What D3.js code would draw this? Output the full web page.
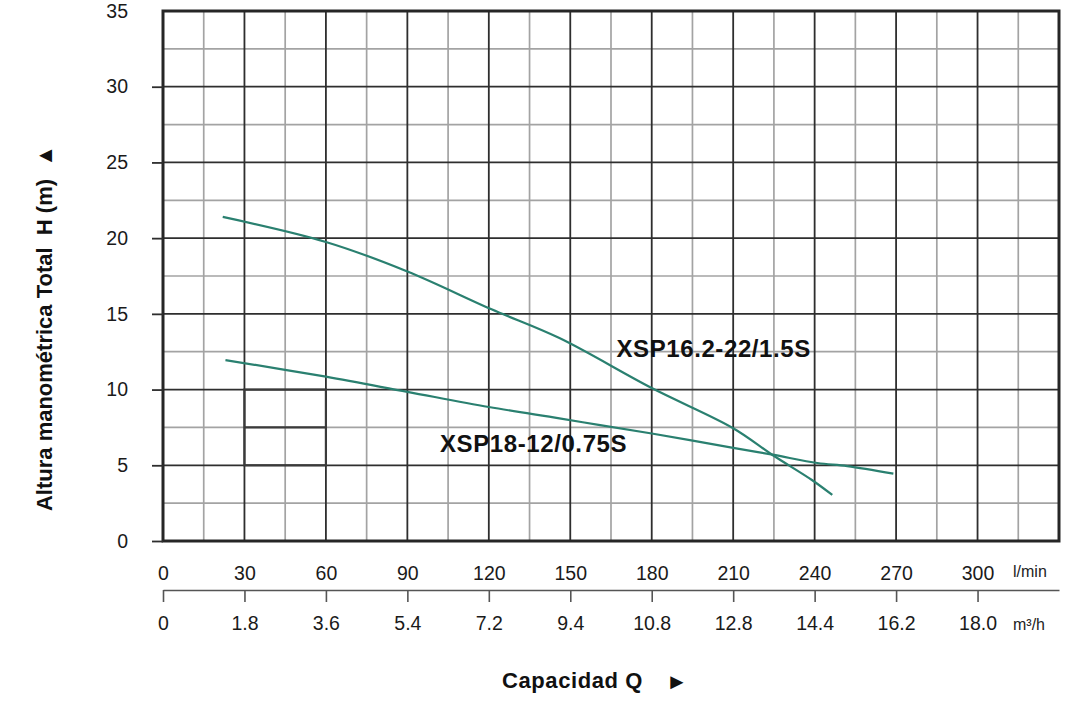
<!DOCTYPE html>
<html><head><meta charset="utf-8">
<script src="https://cdn.jsdelivr.net/npm/d3@7"></script>
<style>
body{margin:0;background:#fff}
svg text{font-family:"Liberation Sans",Arial,Helvetica,sans-serif}
</style></head>
<body><svg id="chart" width="1074" height="702"></svg>
<script>
// ---- data ----
const lpmTicks = [0, 30, 60, 90, 120, 150, 180, 210, 240, 270, 300];
const m3hLabels = ["0", "1.8", "3.6", "5.4", "7.2", "9.4", "10.8", "12.8", "14.4", "16.2", "18.0"];
const headTicks = [0, 5, 10, 15, 20, 25, 30, 35];

const xsp16Q = [22, 60, 90, 121, 146, 180, 210, 224.5, 239, 246.5];
const xsp16H = [21.4, 19.75, 17.8, 15.3, 13.4, 10.1, 7.45, 5.68, 4.03, 3.04];
const xsp18Q = [23, 60, 90, 120, 146, 161, 180, 210, 224.5, 241, 252, 269];
const xsp18H = [11.95, 10.85, 9.85, 8.85, 8.1, 7.65, 7.1, 6.15, 5.7, 5.15, 4.95, 4.45];
const seriesNames = ["XSP16.2-22/1.5S", "XSP18-12/0.75S"];
const labelAnchorQ = [167, 102];   // where each label starts (l/min)
const labelAnchorH = [12.15, 5.9]; // label baseline (m)
const boxQ = [30, 60], boxH = [5, 10]; // highlighted box on the grid

// ---- layout ----
const svg = d3.select("#chart");
const x = d3.scaleLinear().domain([0, 330]).range([163, 1059]);
const y = d3.scaleLinear().domain([0, 35]).range([541, 11]);
const xm3 = d3.scaleLinear().domain([0, 19.8]).range([163, 1059]);

const DARK = "#2e2e2e", LIGHT = "#a3a3a3";

// grid
const vLines = d3.range(15, 330, 15);
const hLines = d3.range(2.5, 35, 2.5);
const grid = svg.append("g");
grid.selectAll(".vl").data(vLines.filter(d => d % 30 !== 0)).join("line")
  .attr("x1", d => x(d)).attr("x2", d => x(d)).attr("y1", y(35)).attr("y2", y(0))
  .attr("stroke", LIGHT).attr("stroke-width", 1.7);
grid.selectAll(".hl").data(hLines.filter(d => d % 5 !== 0)).join("line")
  .attr("y1", d => y(d)).attr("y2", d => y(d)).attr("x1", x(0)).attr("x2", x(330))
  .attr("stroke", LIGHT).attr("stroke-width", 1.7);
grid.selectAll(".vd").data(vLines.filter(d => d % 30 === 0)).join("line")
  .attr("x1", d => x(d)).attr("x2", d => x(d)).attr("y1", y(35)).attr("y2", y(0))
  .attr("stroke", DARK).attr("stroke-width", 1.8);
grid.selectAll(".hd").data(hLines.filter(d => d % 5 === 0)).join("line")
  .attr("y1", d => y(d)).attr("y2", d => y(d)).attr("x1", x(0)).attr("x2", x(330))
  .attr("stroke", DARK).attr("stroke-width", 1.8);

// highlighted box
svg.append("rect").attr("x", x(boxQ[0])).attr("y", y(boxH[1]))
  .attr("width", x(boxQ[1]) - x(boxQ[0])).attr("height", y(boxH[0]) - y(boxH[1]))
  .attr("fill", "none").attr("stroke", "#3a3a3a").attr("stroke-width", 2.2);
svg.append("line").attr("x1", x(boxQ[0])).attr("x2", x(boxQ[1]))
  .attr("y1", y((boxH[0] + boxH[1]) / 2)).attr("y2", y((boxH[0] + boxH[1]) / 2))
  .attr("stroke", "#3a3a3a").attr("stroke-width", 2.2);

// frame
svg.append("rect").attr("x", x(0)).attr("y", y(35))
  .attr("width", x(330) - x(0)).attr("height", y(0) - y(35))
  .attr("fill", "none").attr("stroke", "#262626").attr("stroke-width", 3);

// y axis
const gy = svg.append("g").attr("transform", `translate(${x(0)},0)`)
  .call(d3.axisLeft(y).tickValues(headTicks).tickSize(11).tickPadding(24));
gy.select(".domain").remove();
gy.selectAll(".tick line").attr("stroke", DARK).attr("stroke-width", 1.8)
  .filter(d => d === 35).remove();
gy.attr("font-family", null).attr("font-size", null);
gy.selectAll("text").attr("font-size", 19.5).attr("fill", "#1a1a1a");

// x axis 1 (l/min)
const gx1 = svg.append("g").attr("transform", `translate(0,${y(0)})`)
  .call(d3.axisBottom(x).tickValues(lpmTicks).tickSize(0).tickPadding(25));
gx1.select(".domain").remove();
gx1.attr("font-family", null).attr("font-size", null);
gx1.selectAll("text").attr("font-size", 19.5).attr("fill", "#1a1a1a");

// x axis 2 (m3/h)
const gx2 = svg.append("g").attr("transform", "translate(0,590)")
  .call(d3.axisBottom(xm3).tickValues(m3hLabels.map((d, i) => i * 1.8))
    .tickFormat((d, i) => m3hLabels[i]).tickSize(12).tickSizeOuter(0).tickPadding(14));
gx2.select(".domain").attr("stroke", "#555").attr("stroke-width", 1.6);
gx2.selectAll(".tick line").attr("stroke", "#555").attr("stroke-width", 1.6);
gx2.attr("font-family", null).attr("font-size", null);
gx2.selectAll("text").attr("font-size", 19.5).attr("fill", "#1a1a1a");

// unit labels
svg.append("text").attr("x", 1013).attr("y", 577).attr("font-size", 16).attr("fill", "#222").text("l/min");
svg.append("text").attr("x", 1013).attr("y", 630).attr("font-size", 16).attr("fill", "#222").text("m³/h");

// curves
const line = d3.line().x(d => x(d[0])).y(d => y(d[1])).curve(d3.curveCatmullRom.alpha(0.5));
const curves = [d3.zip(xsp16Q, xsp16H), d3.zip(xsp18Q, xsp18H)];
svg.selectAll(".curve").data(curves).join("path")
  .attr("d", line).attr("fill", "none").attr("stroke", "#2a8070").attr("stroke-width", 2.2);

// curve labels
svg.selectAll(".clab").data(seriesNames).join("text")
  .attr("x", (d, i) => x(labelAnchorQ[i])).attr("y", (d, i) => y(labelAnchorH[i]))
  .attr("font-size", 24).attr("font-weight", "bold").attr("letter-spacing", 0.6)
  .attr("fill", "#111").text(d => d);

// axis titles
svg.append("text").attr("transform", "translate(52,328) rotate(-90)")
  .attr("text-anchor", "middle").attr("font-size", 22).attr("font-weight", "bold")
  .attr("fill", "#111").style("white-space", "pre")
  .text("Altura manométrica Total  H (m)  ▲");
svg.append("text").attr("x", 502).attr("y", 688).attr("font-size", 22)
  .attr("font-weight", "bold").attr("letter-spacing", 0.6).attr("fill", "#111").text("Capacidad Q");
svg.append("text").attr("x", 666).attr("y", 689).attr("font-size", 22)
  .attr("fill", "#111").text("►");
</script></body></html>
